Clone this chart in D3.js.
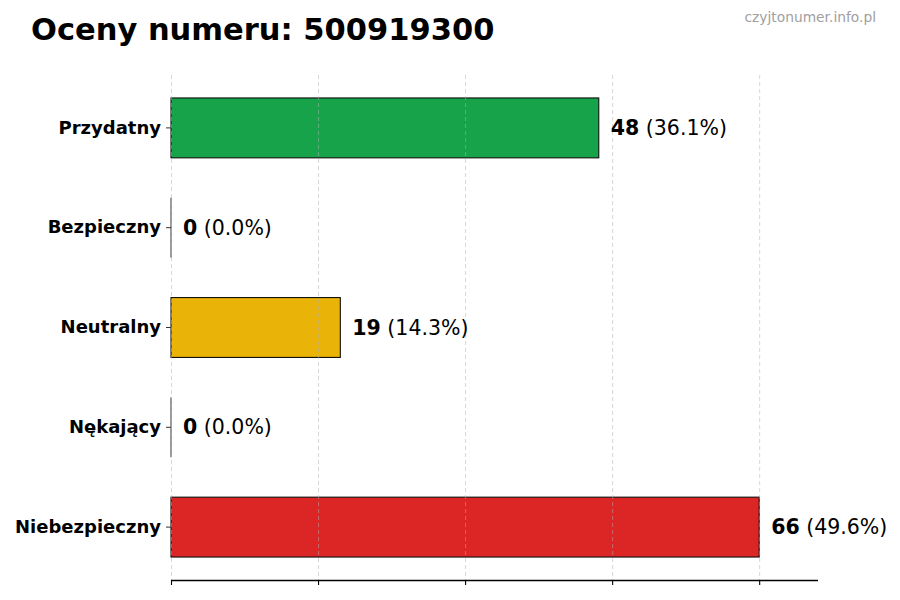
<!DOCTYPE html>
<html>
<head>
<meta charset="utf-8">
<script src="https://cdn.jsdelivr.net/npm/d3@7"></script>
<style>
  body { margin: 0; background: #fff; }
  svg { display: block; font-family: "DejaVu Sans", sans-serif; }
</style>
</head>
<body>
<svg id="chart" width="900" height="600"></svg>
<script>
// data
var categories = ['Przydatny', 'Bezpieczny', 'Neutralny', 'Nękający', 'Niebezpieczny']
var counts = [48, 0, 19, 0, 66]
var colors = ['#16a34a', '#9ca3af', '#eab308', '#f97316', '#dc2626']
var xTicks = [0, 16.5, 33, 49.5, 66]

var total = d3.sum(counts)
var maxVal = d3.max(counts)

var margin = {top: 75, right: 82, bottom: 20, left: 171}
var width = 900, height = 600

var svg = d3.select('#chart')

var x = d3.scaleLinear()
  .domain([0, maxVal * 1.1])
  .range([margin.left, width - margin.right])

var y = d3.scaleBand()
  .domain(categories)
  .range([margin.top, height - margin.bottom])
  .paddingInner(0.4)
  .paddingOuter(0.23)

// bars
svg.append('g')
  .selectAll('rect')
  .data(categories)
  .join('rect')
    .attr('x', x(0))
    .attr('y', d => y(d))
    .attr('width', (d, i) => x(counts[i]) - x(0))
    .attr('height', y.bandwidth())
    .attr('fill', (d, i) => colors[i])
    .attr('stroke', '#111')
    .attr('stroke-width', 1.1)

// zero-width bars still show their edge
svg.append('g')
  .selectAll('line')
  .data(categories.filter((d, i) => counts[i] === 0))
  .join('line')
    .attr('x1', x(0))
    .attr('x2', x(0))
    .attr('y1', d => y(d))
    .attr('y2', d => y(d) + y.bandwidth())
    .attr('stroke', '#333')
    .attr('stroke-width', 1)

// dashed grid on top of the bars
svg.append('g')
  .selectAll('line')
  .data(xTicks)
  .join('line')
    .attr('x1', d => x(d) + 0.5)
    .attr('x2', d => x(d) + 0.5)
    .attr('y1', margin.top)
    .attr('y2', height - margin.bottom)
    .attr('stroke', '#b0b0b0')
    .attr('stroke-opacity', 0.5)
    .attr('stroke-dasharray', '4,3')

// x axis: ticks only, no labels
var xAxis = d3.axisBottom(x)
  .tickValues(xTicks)
  .tickSize(5)
  .tickFormat('')
svg.append('g')
  .attr('transform', `translate(0,${height - margin.bottom})`)
  .call(xAxis)
  .call(g => g.select('.domain').attr('d', `M${x(0)},0.5H${x.range()[1]}`).attr('stroke', '#000').attr('stroke-width', 1.3))
  .call(g => g.selectAll('.tick line').attr('stroke', '#000').attr('stroke-width', 1.1))

// y axis labels
var yAxis = d3.axisLeft(y).tickSize(5).tickPadding(5)
svg.append('g')
  .attr('transform', `translate(${margin.left},0)`)
  .call(yAxis)
  .call(g => g.select('.domain').remove())
  .call(g => g.selectAll('.tick line').attr('stroke', '#333'))
  .call(g => g.selectAll('.tick text')
    .attr('fill', '#000')
    .style('font-family', '"DejaVu Sans", sans-serif')
    .style('font-size', '18px')
    .style('font-weight', 'bold'))

// value labels
var labels = svg.append('g')
  .selectAll('text')
  .data(categories)
  .join('text')
    .attr('x', (d, i) => x(counts[i]) + 12)
    .attr('y', d => y(d) + y.bandwidth() / 2)
    .attr('dy', '0.35em')
    .style('font-size', '20.5px')
    .attr('fill', '#000')
labels.append('tspan')
  .style('font-weight', 'bold')
  .text((d, i) => counts[i])
labels.append('tspan')
  .text((d, i) => ' (' + (counts[i] / total * 100).toFixed(1) + '%)')

// title + watermark
svg.append('text')
  .attr('x', 31)
  .attr('y', 40)
  .style('font-size', '30.5px')
  .style('font-weight', 'bold')
  .attr('fill', '#000')
  .text('Oceny numeru: 500919300')

svg.append('text')
  .attr('x', 876)
  .attr('y', 22)
  .attr('text-anchor', 'end')
  .style('font-family', '"DejaVu Sans", sans-serif')
  .style('font-size', '13.8px')
  .attr('fill', '#a0a0a0')
  .text('czyjtonumer.info.pl')
</script>
</body>
</html>
